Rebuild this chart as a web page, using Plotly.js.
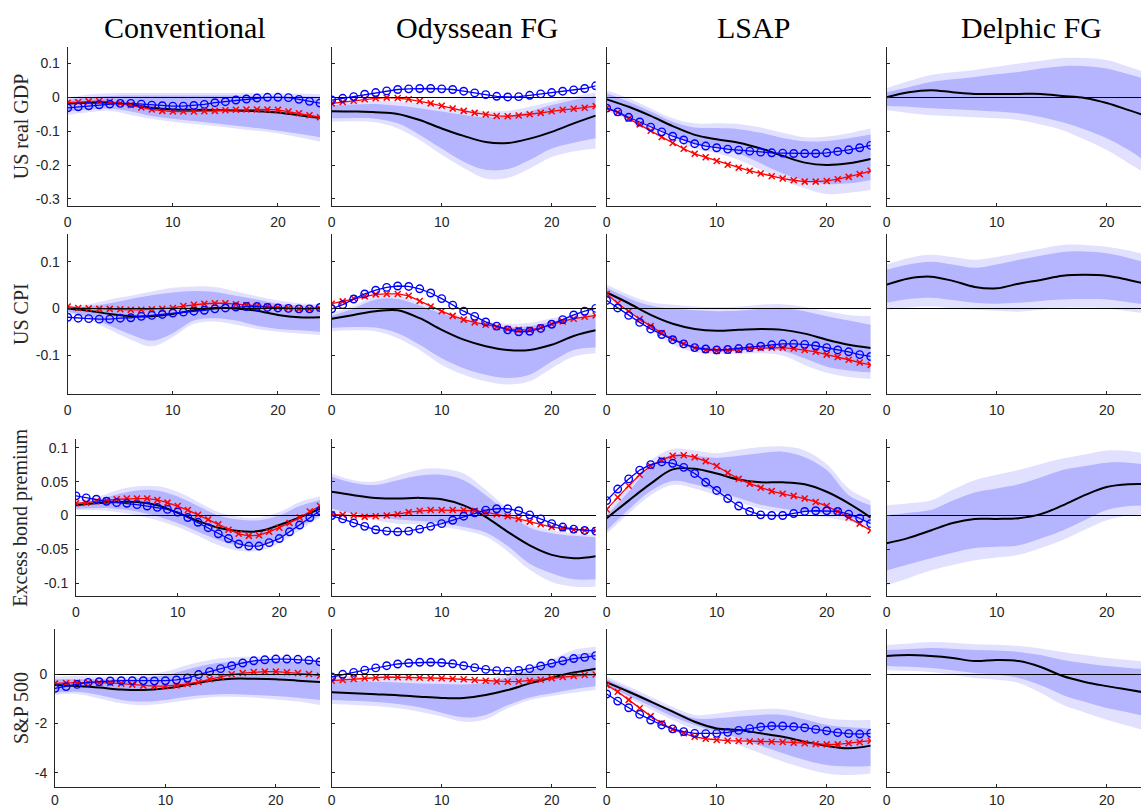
<!DOCTYPE html>
<html>
<head>
<meta charset="utf-8">
<script src="https://cdn.plot.ly/plotly-3.0.1.min.js"></script>
<style>
  html, body { margin: 0; padding: 0; background: #fff; }
  #chart { width: 1141px; height: 808px; }
</style>
</head>
<body>
<div id="chart"></div>
<script>
// Impulse responses to four monetary policy shocks (columns) for four variables (rows).
// Shaded bands: outer and inner credible sets; black: median; red crosses and blue circles: alternative estimates.

const horizons = [0,1,2,3,4,5,6,7,8,9,10,11,12,13,14,15,16,17,18,19,20,21,22,23,24];
const bandHorizons = [0,2,4,6,8,10,12,14,16,18,20,22,24];

const columnTitles = ['Conventional', 'Odyssean FG', 'LSAP', 'Delphic FG'];
const rowTitles = ['US real GDP', 'US CPI', 'Excess bond premium', 'S&amp;P 500'];

const xTickVals = [0, 10, 20];
const xTickText = ['0', '10', '20'];

const gdpTickVals = [-0.3, -0.2, -0.1, 0, 0.1];
const gdpTickText = ['-0.3', '-0.2', '-0.1', '0', '0.1'];
const cpiTickVals = [-0.1, 0, 0.1];
const cpiTickText = ['-0.1', '0', '0.1'];
const ebpTickVals = [-0.1, -0.05, 0, 0.05, 0.1];
const ebpTickText = ['-0.1', '-0.05', '0', '0.05', '0.1'];
const spTickVals = [-4, -2, 0];
const spTickText = ['-4', '-2', '0'];

// ---------- US real GDP ----------
const gdp_conv_med    = [-0.018,-0.016,-0.016,-0.021,-0.031,-0.036,-0.037,-0.038,-0.039,-0.041,-0.045,-0.053,-0.061];
const gdp_conv_out_hi = [-0.002,0.008,0.012,0.013,0.013,0.013,0.013,0.013,0.013,0.013,0.012,0.011,0.009];
const gdp_conv_in_hi  = [-0.008,0.000,0.004,0.005,0.005,0.005,0.005,0.005,0.005,0.004,0.004,0.003,0.002];
const gdp_conv_in_lo  = [-0.042,-0.036,-0.033,-0.042,-0.055,-0.063,-0.070,-0.077,-0.084,-0.091,-0.099,-0.108,-0.118];
const gdp_conv_out_lo = [-0.052,-0.044,-0.040,-0.052,-0.064,-0.072,-0.079,-0.085,-0.092,-0.099,-0.106,-0.118,-0.131];
const gdp_conv_cross  = [-0.016,-0.014,-0.012,-0.011,-0.013,-0.018,-0.023,-0.030,-0.036,-0.040,-0.042,-0.042,-0.042,-0.041,-0.040,-0.038,-0.037,-0.036,-0.036,-0.036,-0.037,-0.042,-0.047,-0.053,-0.059];
const gdp_conv_circ   = [-0.031,-0.028,-0.025,-0.022,-0.020,-0.018,-0.018,-0.020,-0.023,-0.025,-0.026,-0.026,-0.024,-0.021,-0.016,-0.013,-0.008,-0.005,-0.002,0.000,0.000,-0.001,-0.006,-0.012,-0.017];

const gdp_ody_med    = [-0.041,-0.042,-0.044,-0.049,-0.067,-0.092,-0.114,-0.132,-0.135,-0.122,-0.102,-0.077,-0.054];
const gdp_ody_out_hi = [-0.013,-0.012,-0.010,-0.013,-0.018,-0.028,-0.037,-0.042,-0.040,-0.028,-0.013,0.002,0.014];
const gdp_ody_in_hi  = [-0.023,-0.021,-0.020,-0.025,-0.032,-0.042,-0.052,-0.059,-0.055,-0.042,-0.023,-0.008,0.004];
const gdp_ody_in_lo  = [-0.062,-0.061,-0.063,-0.077,-0.111,-0.151,-0.190,-0.214,-0.212,-0.185,-0.151,-0.134,-0.121];
const gdp_ody_out_lo = [-0.072,-0.071,-0.074,-0.092,-0.126,-0.170,-0.209,-0.240,-0.238,-0.210,-0.176,-0.160,-0.151];
const gdp_ody_cross  = [-0.018,-0.014,-0.010,-0.006,-0.003,-0.001,-0.002,-0.006,-0.011,-0.018,-0.025,-0.033,-0.040,-0.046,-0.051,-0.055,-0.056,-0.054,-0.050,-0.046,-0.041,-0.037,-0.034,-0.031,-0.026];
const gdp_ody_circ   = [-0.008,-0.003,0.002,0.009,0.014,0.019,0.023,0.025,0.026,0.026,0.025,0.023,0.018,0.013,0.008,0.003,0.001,0.002,0.006,0.010,0.014,0.018,0.022,0.026,0.034];

const gdp_lsap_med    = [-0.006,-0.028,-0.055,-0.085,-0.111,-0.124,-0.134,-0.151,-0.173,-0.193,-0.200,-0.195,-0.182];
const gdp_lsap_out_hi = [0.021,-0.003,-0.033,-0.062,-0.077,-0.077,-0.079,-0.089,-0.105,-0.118,-0.116,-0.106,-0.092];
const gdp_lsap_in_hi  = [0.012,-0.013,-0.042,-0.072,-0.089,-0.091,-0.094,-0.105,-0.120,-0.130,-0.129,-0.121,-0.110];
const gdp_lsap_in_lo  = [-0.028,-0.055,-0.085,-0.114,-0.136,-0.150,-0.167,-0.195,-0.225,-0.246,-0.256,-0.254,-0.244];
const gdp_lsap_out_lo = [-0.040,-0.067,-0.097,-0.126,-0.151,-0.165,-0.185,-0.214,-0.244,-0.269,-0.286,-0.282,-0.274];
const gdp_lsap_cross  = [-0.032,-0.045,-0.063,-0.080,-0.099,-0.117,-0.135,-0.152,-0.167,-0.177,-0.188,-0.199,-0.208,-0.217,-0.225,-0.233,-0.240,-0.245,-0.249,-0.249,-0.247,-0.242,-0.235,-0.227,-0.217];
const gdp_lsap_circ   = [-0.032,-0.043,-0.059,-0.073,-0.088,-0.102,-0.115,-0.126,-0.137,-0.144,-0.149,-0.153,-0.156,-0.159,-0.162,-0.164,-0.165,-0.166,-0.166,-0.166,-0.164,-0.160,-0.155,-0.149,-0.142];

const gdp_delph_med    = [0.000,0.015,0.021,0.015,0.010,0.010,0.010,0.010,0.004,-0.002,-0.017,-0.038,-0.060];
const gdp_delph_out_hi = [0.027,0.048,0.066,0.074,0.081,0.090,0.100,0.108,0.116,0.116,0.110,0.090,0.070];
const gdp_delph_in_hi  = [0.015,0.030,0.045,0.053,0.060,0.068,0.075,0.085,0.092,0.092,0.085,0.068,0.050];
const gdp_delph_in_lo  = [-0.026,-0.028,-0.032,-0.035,-0.038,-0.042,-0.047,-0.058,-0.074,-0.095,-0.121,-0.156,-0.200];
const gdp_delph_out_lo = [-0.038,-0.046,-0.053,-0.056,-0.059,-0.062,-0.067,-0.080,-0.097,-0.125,-0.156,-0.195,-0.235];

// ---------- US CPI ----------
const cpi_conv_med    = [0.000,-0.005,-0.012,-0.017,-0.017,-0.012,-0.004,0.001,0.000,-0.005,-0.014,-0.019,-0.019];
const cpi_conv_out_hi = [0.004,0.009,0.019,0.027,0.036,0.044,0.047,0.046,0.036,0.026,0.017,0.011,0.009];
const cpi_conv_in_hi  = [0.001,0.004,0.011,0.020,0.028,0.034,0.037,0.035,0.027,0.019,0.010,0.006,0.004];
const cpi_conv_in_lo  = [-0.007,-0.019,-0.037,-0.056,-0.069,-0.053,-0.026,-0.021,-0.026,-0.037,-0.044,-0.047,-0.050];
const cpi_conv_out_lo = [-0.010,-0.024,-0.046,-0.067,-0.081,-0.061,-0.033,-0.028,-0.035,-0.044,-0.050,-0.054,-0.057];
const cpi_conv_cross  = [0.004,0.001,0.000,-0.001,-0.001,-0.002,-0.003,-0.003,-0.002,-0.001,0.001,0.005,0.008,0.010,0.011,0.011,0.009,0.007,0.005,0.004,0.002,0.001,-0.001,-0.001,0.000];
const cpi_conv_circ   = [-0.019,-0.021,-0.022,-0.023,-0.023,-0.021,-0.020,-0.017,-0.015,-0.013,-0.010,-0.008,-0.006,-0.004,-0.001,0.001,0.003,0.004,0.004,0.002,0.001,0.000,-0.001,-0.001,0.002];

const cpi_ody_med    = [-0.022,-0.014,-0.006,-0.004,-0.021,-0.046,-0.067,-0.081,-0.089,-0.089,-0.078,-0.059,-0.047];
const cpi_ody_out_hi = [-0.010,0.006,0.026,0.027,0.013,-0.004,-0.018,-0.028,-0.033,-0.031,-0.021,-0.014,-0.010];
const cpi_ody_in_hi  = [-0.016,0.000,0.019,0.020,0.006,-0.011,-0.025,-0.035,-0.040,-0.038,-0.028,-0.020,-0.016];
const cpi_ody_in_lo  = [-0.042,-0.040,-0.041,-0.053,-0.078,-0.107,-0.128,-0.142,-0.149,-0.142,-0.114,-0.089,-0.084];
const cpi_ody_out_lo = [-0.049,-0.047,-0.049,-0.064,-0.089,-0.121,-0.142,-0.156,-0.163,-0.156,-0.128,-0.103,-0.096];
const cpi_ody_cross  = [0.010,0.015,0.021,0.026,0.030,0.031,0.031,0.027,0.016,0.004,-0.006,-0.016,-0.024,-0.030,-0.035,-0.040,-0.044,-0.046,-0.046,-0.041,-0.034,-0.028,-0.022,-0.018,-0.015];
const cpi_ody_circ   = [-0.001,0.008,0.020,0.031,0.039,0.045,0.048,0.047,0.042,0.033,0.021,0.007,-0.006,-0.017,-0.029,-0.038,-0.046,-0.050,-0.049,-0.043,-0.034,-0.024,-0.014,-0.006,0.000];

const cpi_lsap_med    = [0.034,0.011,-0.014,-0.033,-0.044,-0.048,-0.046,-0.044,-0.046,-0.054,-0.067,-0.078,-0.085];
const cpi_lsap_out_hi = [0.051,0.029,0.013,0.008,0.004,0.003,0.004,0.008,0.009,0.003,-0.006,-0.014,-0.017];
const cpi_lsap_in_hi  = [0.044,0.022,0.006,-0.001,-0.004,-0.006,-0.005,-0.001,0.001,-0.006,-0.017,-0.026,-0.035];
const cpi_lsap_in_lo  = [0.029,-0.003,-0.039,-0.069,-0.087,-0.090,-0.089,-0.087,-0.091,-0.107,-0.125,-0.133,-0.137];
const cpi_lsap_out_lo = [0.022,-0.010,-0.046,-0.078,-0.094,-0.097,-0.097,-0.096,-0.101,-0.121,-0.138,-0.147,-0.151];
const cpi_lsap_cross  = [0.031,0.011,-0.006,-0.023,-0.038,-0.053,-0.066,-0.076,-0.085,-0.089,-0.091,-0.090,-0.089,-0.086,-0.085,-0.084,-0.084,-0.086,-0.089,-0.093,-0.099,-0.104,-0.110,-0.116,-0.121];
const cpi_lsap_circ   = [0.017,0.001,-0.015,-0.030,-0.044,-0.056,-0.067,-0.076,-0.084,-0.087,-0.089,-0.088,-0.086,-0.084,-0.081,-0.078,-0.076,-0.076,-0.077,-0.080,-0.084,-0.089,-0.093,-0.099,-0.103];

const cpi_delph_med    = [0.051,0.064,0.068,0.059,0.046,0.043,0.053,0.061,0.070,0.072,0.070,0.061,0.050];
const cpi_delph_out_hi = [0.094,0.108,0.115,0.110,0.104,0.110,0.119,0.128,0.136,0.136,0.132,0.124,0.112];
const cpi_delph_in_hi  = [0.083,0.094,0.100,0.094,0.087,0.094,0.104,0.113,0.121,0.122,0.118,0.108,0.095];
const cpi_delph_in_lo  = [0.012,0.020,0.023,0.018,0.012,0.010,0.012,0.016,0.019,0.020,0.019,0.013,0.006];
const cpi_delph_out_lo = [-0.003,0.002,0.004,0.000,-0.003,-0.005,-0.007,-0.003,0.001,0.002,0.000,-0.006,-0.012];

// ---------- Excess bond premium ----------
const ebp_conv_med    = [0.015,0.018,0.020,0.020,0.015,0.004,-0.008,-0.018,-0.023,-0.023,-0.014,-0.003,0.010];
const ebp_conv_out_hi = [0.022,0.027,0.037,0.043,0.043,0.035,0.020,0.005,-0.002,-0.003,0.005,0.020,0.028];
const ebp_conv_in_hi  = [0.019,0.023,0.031,0.037,0.037,0.028,0.014,0.000,-0.006,-0.007,0.000,0.014,0.023];
const ebp_conv_in_lo  = [0.010,0.011,0.010,0.006,-0.001,-0.011,-0.024,-0.036,-0.044,-0.044,-0.034,-0.017,0.000];
const ebp_conv_out_lo = [0.008,0.008,0.005,0.000,-0.007,-0.017,-0.030,-0.044,-0.052,-0.052,-0.041,-0.022,-0.003];
const ebp_conv_cross  = [0.018,0.019,0.021,0.022,0.024,0.025,0.025,0.025,0.023,0.019,0.014,0.008,0.001,-0.006,-0.013,-0.021,-0.027,-0.030,-0.029,-0.024,-0.018,-0.011,-0.003,0.006,0.014];
const ebp_conv_circ   = [0.029,0.026,0.024,0.021,0.019,0.018,0.016,0.014,0.012,0.009,0.005,-0.003,-0.010,-0.018,-0.027,-0.034,-0.042,-0.045,-0.045,-0.040,-0.034,-0.024,-0.014,-0.003,0.007];

const ebp_ody_med    = [0.035,0.030,0.026,0.025,0.026,0.024,0.015,-0.002,-0.024,-0.044,-0.058,-0.063,-0.060];
const ebp_ody_out_hi = [0.062,0.052,0.050,0.059,0.068,0.069,0.062,0.038,0.010,-0.013,-0.022,-0.026,-0.029];
const ebp_ody_in_hi  = [0.057,0.048,0.045,0.052,0.059,0.060,0.052,0.030,0.004,-0.018,-0.026,-0.030,-0.032];
const ebp_ody_in_lo  = [0.010,0.003,-0.002,-0.006,-0.008,-0.011,-0.017,-0.025,-0.045,-0.071,-0.085,-0.094,-0.094];
const ebp_ody_out_lo = [0.005,-0.001,-0.007,-0.012,-0.013,-0.017,-0.022,-0.031,-0.053,-0.080,-0.098,-0.105,-0.105];
const ebp_ody_cross  = [0.002,0.001,0.000,-0.002,-0.001,0.000,0.002,0.005,0.007,0.008,0.008,0.008,0.008,0.007,0.005,0.002,-0.001,-0.005,-0.009,-0.013,-0.017,-0.019,-0.021,-0.022,-0.022];
const ebp_ody_circ   = [0.000,-0.005,-0.011,-0.016,-0.021,-0.023,-0.024,-0.023,-0.020,-0.016,-0.012,-0.007,-0.001,0.004,0.008,0.010,0.010,0.007,0.001,-0.005,-0.012,-0.017,-0.020,-0.022,-0.023];

const ebp_lsap_med    = [-0.004,0.022,0.047,0.068,0.069,0.062,0.053,0.049,0.049,0.046,0.035,0.018,-0.003];
const ebp_lsap_out_hi = [0.005,0.042,0.081,0.098,0.096,0.092,0.097,0.101,0.102,0.096,0.076,0.040,0.022];
const ebp_lsap_in_hi  = [0.000,0.035,0.072,0.090,0.088,0.085,0.088,0.092,0.094,0.086,0.067,0.030,0.015];
const ebp_lsap_in_lo  = [-0.022,0.009,0.036,0.051,0.046,0.036,0.026,0.016,0.010,0.006,0.003,-0.003,-0.011];
const ebp_lsap_out_lo = [-0.027,0.003,0.030,0.045,0.040,0.030,0.020,0.010,0.004,0.000,-0.003,-0.009,-0.017];
const ebp_lsap_cross  = [0.009,0.027,0.044,0.060,0.073,0.082,0.088,0.089,0.086,0.080,0.073,0.063,0.054,0.047,0.041,0.036,0.032,0.029,0.025,0.020,0.014,0.006,-0.003,-0.012,-0.022];
const ebp_lsap_circ   = [0.022,0.039,0.054,0.067,0.075,0.079,0.077,0.071,0.062,0.049,0.037,0.025,0.014,0.006,0.001,0.000,0.000,0.003,0.006,0.007,0.007,0.006,0.002,-0.004,-0.012];

const ebp_delph_med    = [-0.041,-0.033,-0.022,-0.011,-0.005,-0.005,-0.004,0.002,0.015,0.030,0.042,0.046,0.046];
const ebp_delph_out_hi = [0.015,0.018,0.022,0.038,0.052,0.060,0.067,0.076,0.084,0.090,0.096,0.095,0.090];
const ebp_delph_in_hi  = [0.000,0.004,0.008,0.022,0.034,0.040,0.046,0.056,0.067,0.073,0.078,0.078,0.074];
const ebp_delph_in_lo  = [-0.081,-0.072,-0.063,-0.055,-0.048,-0.046,-0.044,-0.034,-0.022,-0.007,0.008,0.014,0.015];
const ebp_delph_out_lo = [-0.103,-0.092,-0.081,-0.073,-0.066,-0.062,-0.058,-0.048,-0.036,-0.021,-0.007,0.000,0.002];

// ---------- S&P 500 ----------
const sp_conv_med    = [-0.43,-0.48,-0.54,-0.62,-0.64,-0.57,-0.43,-0.27,-0.18,-0.18,-0.20,-0.26,-0.31];
const sp_conv_out_hi = [-0.10,-0.07,-0.10,-0.10,-0.03,0.11,0.38,0.58,0.69,0.72,0.72,0.68,0.61];
const sp_conv_in_hi  = [-0.20,-0.20,-0.20,-0.20,-0.14,-0.03,0.20,0.41,0.51,0.54,0.55,0.50,0.45];
const sp_conv_in_lo  = [-0.75,-0.71,-0.84,-1.04,-1.11,-1.04,-0.91,-0.83,-0.80,-0.84,-0.88,-0.95,-1.04];
const sp_conv_out_lo = [-0.84,-0.80,-0.98,-1.18,-1.26,-1.18,-1.04,-0.93,-0.91,-0.94,-1.02,-1.11,-1.25];
const sp_conv_cross  = [-0.37,-0.35,-0.34,-0.34,-0.34,-0.35,-0.38,-0.42,-0.46,-0.48,-0.48,-0.45,-0.39,-0.31,-0.20,-0.10,0.00,0.05,0.09,0.11,0.11,0.08,0.05,0.01,-0.06];
const sp_conv_circ   = [-0.57,-0.50,-0.41,-0.33,-0.30,-0.27,-0.26,-0.26,-0.26,-0.27,-0.26,-0.23,-0.15,-0.01,0.11,0.23,0.35,0.46,0.55,0.59,0.62,0.62,0.61,0.57,0.51];

const sp_ody_med    = [-0.73,-0.77,-0.81,-0.85,-0.91,-0.96,-0.96,-0.84,-0.64,-0.37,-0.14,0.07,0.23];
const sp_ody_out_hi = [-0.03,-0.10,-0.12,-0.16,-0.19,-0.23,-0.25,-0.20,0.04,0.31,0.61,0.99,1.12];
const sp_ody_in_hi  = [-0.20,-0.26,-0.30,-0.33,-0.37,-0.39,-0.41,-0.34,-0.12,0.15,0.45,0.78,0.89];
const sp_ody_in_lo  = [-1.04,-1.08,-1.13,-1.21,-1.34,-1.56,-1.75,-1.65,-1.25,-0.94,-0.77,-0.61,-0.48];
const sp_ody_out_lo = [-1.21,-1.25,-1.29,-1.38,-1.52,-1.72,-1.93,-1.83,-1.38,-1.04,-0.88,-0.75,-0.64];
const sp_ody_cross  = [-0.26,-0.23,-0.19,-0.16,-0.14,-0.11,-0.12,-0.12,-0.14,-0.15,-0.16,-0.18,-0.20,-0.23,-0.26,-0.29,-0.30,-0.29,-0.26,-0.22,-0.16,-0.11,-0.07,-0.03,-0.01];
const sp_ody_circ   = [-0.11,0.00,0.08,0.17,0.26,0.35,0.42,0.46,0.49,0.49,0.47,0.43,0.35,0.27,0.20,0.15,0.13,0.16,0.23,0.34,0.45,0.55,0.64,0.69,0.76];

const sp_lsap_med    = [-0.33,-0.71,-1.11,-1.52,-1.93,-2.20,-2.26,-2.40,-2.54,-2.74,-2.91,-3.01,-2.90];
const sp_lsap_out_hi = [-0.10,-0.50,-0.91,-1.32,-1.65,-1.59,-1.48,-1.42,-1.42,-1.59,-1.79,-1.86,-1.86];
const sp_lsap_in_hi  = [-0.20,-0.61,-1.04,-1.45,-1.79,-1.79,-1.72,-1.65,-1.65,-1.83,-2.06,-2.15,-2.20];
const sp_lsap_in_lo  = [-0.48,-0.88,-1.29,-1.72,-2.06,-2.33,-2.60,-2.91,-3.21,-3.48,-3.69,-3.75,-3.73];
const sp_lsap_out_lo = [-0.57,-0.98,-1.42,-1.86,-2.24,-2.54,-2.87,-3.21,-3.55,-3.82,-4.03,-4.09,-4.03];
const sp_lsap_cross  = [-0.43,-0.71,-1.04,-1.38,-1.70,-1.99,-2.24,-2.40,-2.54,-2.62,-2.67,-2.70,-2.71,-2.73,-2.73,-2.74,-2.75,-2.78,-2.80,-2.83,-2.85,-2.85,-2.80,-2.76,-2.70];
const sp_lsap_circ   = [-0.80,-1.09,-1.36,-1.63,-1.86,-2.06,-2.22,-2.33,-2.40,-2.41,-2.40,-2.36,-2.28,-2.21,-2.14,-2.10,-2.10,-2.13,-2.17,-2.24,-2.30,-2.37,-2.41,-2.43,-2.40];

const sp_delph_med    = [0.74,0.78,0.74,0.66,0.54,0.58,0.54,0.30,-0.07,-0.31,-0.48,-0.63,-0.78];
const sp_delph_out_hi = [1.19,1.25,1.31,1.28,1.22,1.20,1.15,1.05,0.91,0.78,0.66,0.58,0.50];
const sp_delph_in_hi  = [0.99,1.03,1.07,1.04,0.99,0.97,0.91,0.78,0.58,0.45,0.34,0.26,0.20];
const sp_delph_in_lo  = [0.34,0.31,0.26,0.17,0.05,-0.02,-0.15,-0.45,-0.84,-1.12,-1.37,-1.55,-1.75];
const sp_delph_out_lo = [0.17,0.14,0.09,-0.02,-0.15,-0.22,-0.35,-0.75,-1.24,-1.55,-1.85,-2.10,-2.35];

// ---------- panel table ----------
const panels = [
  {row:0, col:0, med:gdp_conv_med, outHi:gdp_conv_out_hi, inHi:gdp_conv_in_hi, inLo:gdp_conv_in_lo, outLo:gdp_conv_out_lo, cross:gdp_conv_cross, circ:gdp_conv_circ},
  {row:0, col:1, med:gdp_ody_med, outHi:gdp_ody_out_hi, inHi:gdp_ody_in_hi, inLo:gdp_ody_in_lo, outLo:gdp_ody_out_lo, cross:gdp_ody_cross, circ:gdp_ody_circ},
  {row:0, col:2, med:gdp_lsap_med, outHi:gdp_lsap_out_hi, inHi:gdp_lsap_in_hi, inLo:gdp_lsap_in_lo, outLo:gdp_lsap_out_lo, cross:gdp_lsap_cross, circ:gdp_lsap_circ},
  {row:0, col:3, med:gdp_delph_med, outHi:gdp_delph_out_hi, inHi:gdp_delph_in_hi, inLo:gdp_delph_in_lo, outLo:gdp_delph_out_lo},
  {row:1, col:0, med:cpi_conv_med, outHi:cpi_conv_out_hi, inHi:cpi_conv_in_hi, inLo:cpi_conv_in_lo, outLo:cpi_conv_out_lo, cross:cpi_conv_cross, circ:cpi_conv_circ},
  {row:1, col:1, med:cpi_ody_med, outHi:cpi_ody_out_hi, inHi:cpi_ody_in_hi, inLo:cpi_ody_in_lo, outLo:cpi_ody_out_lo, cross:cpi_ody_cross, circ:cpi_ody_circ},
  {row:1, col:2, med:cpi_lsap_med, outHi:cpi_lsap_out_hi, inHi:cpi_lsap_in_hi, inLo:cpi_lsap_in_lo, outLo:cpi_lsap_out_lo, cross:cpi_lsap_cross, circ:cpi_lsap_circ},
  {row:1, col:3, med:cpi_delph_med, outHi:cpi_delph_out_hi, inHi:cpi_delph_in_hi, inLo:cpi_delph_in_lo, outLo:cpi_delph_out_lo},
  {row:2, col:0, med:ebp_conv_med, outHi:ebp_conv_out_hi, inHi:ebp_conv_in_hi, inLo:ebp_conv_in_lo, outLo:ebp_conv_out_lo, cross:ebp_conv_cross, circ:ebp_conv_circ},
  {row:2, col:1, med:ebp_ody_med, outHi:ebp_ody_out_hi, inHi:ebp_ody_in_hi, inLo:ebp_ody_in_lo, outLo:ebp_ody_out_lo, cross:ebp_ody_cross, circ:ebp_ody_circ},
  {row:2, col:2, med:ebp_lsap_med, outHi:ebp_lsap_out_hi, inHi:ebp_lsap_in_hi, inLo:ebp_lsap_in_lo, outLo:ebp_lsap_out_lo, cross:ebp_lsap_cross, circ:ebp_lsap_circ},
  {row:2, col:3, med:ebp_delph_med, outHi:ebp_delph_out_hi, inHi:ebp_delph_in_hi, inLo:ebp_delph_in_lo, outLo:ebp_delph_out_lo},
  {row:3, col:0, med:sp_conv_med, outHi:sp_conv_out_hi, inHi:sp_conv_in_hi, inLo:sp_conv_in_lo, outLo:sp_conv_out_lo, cross:sp_conv_cross, circ:sp_conv_circ},
  {row:3, col:1, med:sp_ody_med, outHi:sp_ody_out_hi, inHi:sp_ody_in_hi, inLo:sp_ody_in_lo, outLo:sp_ody_out_lo, cross:sp_ody_cross, circ:sp_ody_circ},
  {row:3, col:2, med:sp_lsap_med, outHi:sp_lsap_out_hi, inHi:sp_lsap_in_hi, inLo:sp_lsap_in_lo, outLo:sp_lsap_out_lo, cross:sp_lsap_cross, circ:sp_lsap_circ},
  {row:3, col:3, med:sp_delph_med, outHi:sp_delph_out_hi, inHi:sp_delph_in_hi, inLo:sp_delph_in_lo, outLo:sp_delph_out_lo}
];

// ---------- geometry (pixels of a 1141 x 808 page) ----------
const W = 1141, H = 808;
const rowTopPx    = [46.7, 233.7, 439.3, 629.3];
const rowBottomPx = [205.7, 394.3, 596.0, 786.7];
const xLabelGap   = [3, 3, 3, 0];
const firstColLeftPx = [67.7, 67.7, 76.0, 55.0];
const colLeftPx  = [null, 331.7, 606.7, 886.7];
const colRightPx = [320.0, 595.7, 870.7, 1141];
const yRanges = [[-0.3202, 0.1495], [-0.184, 0.16], [-0.1187, 0.1124], [-4.57, 1.83]];
const yTicks = [[gdpTickVals, gdpTickText], [cpiTickVals, cpiTickText], [ebpTickVals, ebpTickText], [spTickVals, spTickText]];

const lightBand = 'rgb(225,225,255)';
const darkBand = 'rgb(180,180,255)';
const axisColor = '#262626';
const tickFont = {family: 'Liberation Sans, Arial, sans-serif', size: 14, color: axisColor};
const serif = 'Liberation Serif, Times New Roman, serif';

const traces = [];
const layout = {
  width: W, height: H,
  margin: {l: 0, r: 0, t: 0, b: 0},
  paper_bgcolor: '#ffffff', plot_bgcolor: 'rgba(0,0,0,0)',
  showlegend: false,
  annotations: []
};

panels.forEach((p, i) => {
  const n = i + 1;
  const xa = n === 1 ? 'x' : 'x' + n;
  const ya = n === 1 ? 'y' : 'y' + n;
  const common = {xaxis: xa, yaxis: ya, hoverinfo: 'skip', showlegend: false};
  const bandLine = {width: 0, shape: 'spline', smoothing: 1};

  traces.push(Object.assign({type: 'scatter', mode: 'lines', x: bandHorizons, y: p.outLo, line: bandLine}, common));
  traces.push(Object.assign({type: 'scatter', mode: 'lines', x: bandHorizons, y: p.outHi, line: bandLine, fill: 'tonexty', fillcolor: lightBand}, common));
  traces.push(Object.assign({type: 'scatter', mode: 'lines', x: bandHorizons, y: p.inLo, line: bandLine}, common));
  traces.push(Object.assign({type: 'scatter', mode: 'lines', x: bandHorizons, y: p.inHi, line: bandLine, fill: 'tonexty', fillcolor: darkBand}, common));
  traces.push(Object.assign({type: 'scatter', mode: 'lines', x: bandHorizons, y: p.med,
    line: {color: '#000000', width: 2, shape: 'spline', smoothing: 1}}, common));
  if (p.cross) {
    traces.push(Object.assign({type: 'scatter', mode: 'lines+markers', x: horizons, y: p.cross,
      line: {color: '#ff0000', width: 1.3},
      marker: {symbol: 'x-thin-open', size: 6, color: '#ff0000', line: {color: '#ff0000', width: 1.5}}}, common));
  }
  if (p.circ) {
    traces.push(Object.assign({type: 'scatter', mode: 'lines+markers', x: horizons, y: p.circ,
      line: {color: '#0000ff', width: 1.3},
      marker: {symbol: 'circle-open', size: 7.5, color: '#0000ff', line: {color: '#0000ff', width: 1.4}}}, common));
  }

  const left = p.col === 0 ? firstColLeftPx[p.row] : colLeftPx[p.col];
  const right = colRightPx[p.col];
  const xMax = p.col === 3 ? 24 * (right - left) / (colRightPx[2] - colLeftPx[2]) : 24;

  layout['xaxis' + (n === 1 ? '' : n)] = {
    domain: [left / W, right / W],
    anchor: ya,
    range: [0, xMax],
    tickvals: xTickVals, ticktext: xTickText,
    ticks: 'inside', ticklen: 3, tickcolor: axisColor, tickwidth: 1,
    showline: true, linecolor: axisColor, linewidth: 1,
    showgrid: false, zeroline: false,
    tickfont: tickFont, ticklabelstandoff: xLabelGap[p.row],
    fixedrange: true
  };
  layout['yaxis' + (n === 1 ? '' : n)] = {
    domain: [1 - rowBottomPx[p.row] / H, 1 - rowTopPx[p.row] / H],
    anchor: xa,
    range: yRanges[p.row],
    tickvals: yTicks[p.row][0], ticktext: yTicks[p.row][1],
    showticklabels: p.col === 0,
    ticks: 'inside', ticklen: 3, tickcolor: axisColor, tickwidth: 1,
    showline: true, linecolor: axisColor, linewidth: 1,
    showgrid: false,
    zeroline: true, zerolinecolor: '#000000', zerolinewidth: 1,
    zerolinelayer: 'above traces',
    layer: 'above traces',
    tickfont: tickFont, ticklabelstandoff: 4,
    fixedrange: true
  };
});

// Column headings
const titleCentersPx = [185, 477, 753, 1031];
columnTitles.forEach((t, c) => {
  layout.annotations.push({
    text: t, xref: 'paper', yref: 'paper',
    x: titleCentersPx[c] / W, y: 1 - 27 / H,
    xanchor: 'center', yanchor: 'middle', showarrow: false,
    font: {family: serif, size: 30, color: '#000000'}
  });
});

// Row headings (vertical, left of the first column)
rowTitles.forEach((t, r) => {
  layout.annotations.push({
    text: t, xref: 'paper', yref: 'paper',
    x: 21 / W, y: 1 - ((rowTopPx[r] + rowBottomPx[r]) / 2) / H,
    xanchor: 'center', yanchor: 'middle', showarrow: false, textangle: -90,
    font: {family: serif, size: 20, color: '#262626'}
  });
});

Plotly.newPlot('chart', traces, layout, {displayModeBar: false, staticPlot: true});
</script>
</body>
</html>
